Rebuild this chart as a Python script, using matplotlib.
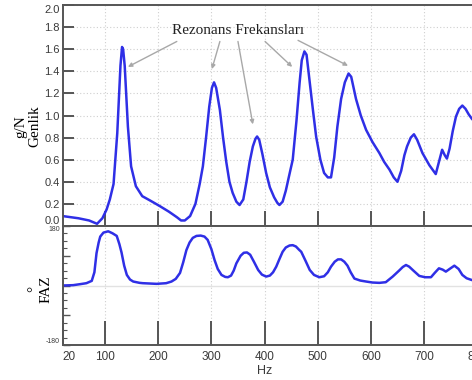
import matplotlib
matplotlib.use("Agg")
import matplotlib.pyplot as plt
from matplotlib.ticker import MultipleLocator

# amplitude (g/N) vs frequency
amp_hz = [20, 50, 70, 85, 95, 103, 109, 116, 123, 129, 132, 134, 137, 143, 149, 158,
          170, 185, 203, 220, 235, 243, 250, 260, 270, 278, 284, 290, 296, 301, 305,
          309, 316, 322, 328, 334, 340, 347, 353, 360, 366, 372, 378, 383, 386, 390,
          396, 403, 410, 418, 424, 428, 434, 440, 446, 453, 460, 466, 470, 475, 479,
          485, 491, 497, 505, 512, 519, 525, 531, 537, 544, 551, 558, 563, 572, 581,
          591, 603, 616, 625, 635, 643, 650, 657, 663, 668, 675, 681, 687, 697, 710,
          722, 728, 734, 739, 743, 748, 754, 760, 766, 772, 778, 784, 790, 800]
amp = [0.09, 0.07, 0.05, 0.02, 0.07, 0.15, 0.24, 0.38, 0.84, 1.45, 1.62, 1.60, 1.45, 0.90,
       0.54, 0.36, 0.27, 0.23, 0.18, 0.13, 0.08, 0.05, 0.05, 0.09, 0.20, 0.38, 0.54, 0.80,
       1.08, 1.25, 1.30, 1.25, 1.05, 0.80, 0.58, 0.40, 0.30, 0.22, 0.19, 0.24, 0.40, 0.58,
       0.72, 0.79, 0.81, 0.78, 0.65, 0.48, 0.35, 0.26, 0.21, 0.19, 0.22, 0.32, 0.45, 0.60,
       0.95, 1.30, 1.50, 1.58, 1.55, 1.30, 1.05, 0.81, 0.60, 0.48, 0.44, 0.44, 0.62, 0.90,
       1.15, 1.30, 1.38, 1.35, 1.15, 1.00, 0.87, 0.76, 0.66, 0.58, 0.51, 0.44, 0.40, 0.50,
       0.64, 0.72, 0.80, 0.83, 0.78, 0.66, 0.55, 0.47, 0.58, 0.69, 0.64, 0.61, 0.70, 0.86,
       0.99, 1.06, 1.09, 1.06, 1.01, 0.97, 0.92]

# phase (deg) vs frequency
faz_hz = [20, 40, 53, 65, 75, 80, 84, 88, 91, 97, 106, 114, 122, 127, 131, 136, 141, 147,
          153, 165, 171, 197, 215, 225, 233, 241, 247, 253, 259, 265, 272, 280, 287, 293,
          300, 306, 312, 319, 326, 331, 337, 342, 347, 355, 361, 367, 373, 380, 388, 395,
          403, 410, 416, 422, 428, 434, 440, 447, 453, 459, 465, 469, 477, 485, 493, 503,
          512, 519, 525, 532, 538, 544, 550, 556, 562, 569, 580, 591, 603, 616, 628, 641,
          653, 660, 666, 672, 680, 691, 702, 713, 720, 728, 735, 741, 748, 757, 765, 772,
          780, 789, 800]
faz = [0, 1, 4, 7, 14, 40, 98, 130, 148, 160, 164, 158, 150, 125, 100, 60, 32, 18, 12, 8,
       7, 5, 7, 12, 20, 38, 70, 107, 130, 144, 150, 151, 148, 138, 110, 77, 50, 32, 26, 25,
       30, 45, 67, 90, 99, 100, 93, 72, 47, 33, 27, 30, 40, 57, 80, 102, 115, 121, 122,
       118, 108, 102, 75, 47, 32, 25, 28, 40, 57, 72, 79, 79, 72, 60, 40, 21, 15, 12, 9, 8,
       10, 27, 45, 56, 62, 57, 45, 29, 25, 25, 38, 52, 48, 42, 50, 60, 50, 32, 22, 17, 12]

x_ticks = [100, 200, 300, 400, 500, 600, 700, 800]
amp_ticks = [0.0, 0.2, 0.4, 0.6, 0.8, 1.0, 1.2, 1.4, 1.6, 1.8, 2.0]

blue = '#2f2fe6'
spine_c = '#555555'
tick_c = '#3a3a3a'
grid_c = '#cfcfcf'
serif = ['Liberation Serif', 'DejaVu Serif']
sans = ['Liberation Sans', 'DejaVu Sans']

fig = plt.figure(figsize=(4.72, 3.80), dpi=100)
W, H = 472, 380
left = 62.5 / W
ax_w_px = 810 * 0.5317
ax1 = fig.add_axes([left, (H - 226) / H, ax_w_px / W, 221 / H])
ax2 = fig.add_axes([left, (H - 345) / H, ax_w_px / W, 119 / H])

for ax in (ax1, ax2):
    for s in ax.spines.values():
        s.set_color(spine_c)
        s.set_linewidth(1.4)
    ax.spines['right'].set_visible(False)
    ax.set_xlim(20, 830)
    ax.set_xticks(x_ticks)
    ax.grid(axis='x', color=grid_c, linestyle=(0, (1, 2)), linewidth=0.8)
    ax.tick_params(axis='x', direction='in', color=spine_c, width=1.4)

# top panel
ax1.plot(amp_hz, amp, color=blue, linewidth=1.8)
ax1.set_ylim(0, 2.0)
ax1.set_yticks(amp_ticks)
ax1.set_yticklabels([f'{t:.1f}' for t in amp_ticks], fontfamily=sans, fontsize=8, color=tick_c)
labs = ax1.get_yticklabels()
labs[0].set_va('bottom')
labs[-1].set_va('top')
ax1.tick_params(axis='y', direction='in', length=8, width=1.4, color=spine_c, pad=2)
ax1.tick_params(axis='x', length=11, labelbottom=False)
ax1.grid(axis='y', color=grid_c, linestyle=(0, (1, 2)), linewidth=0.8)
ax1.set_ylabel('g/N\nGenlik', fontfamily=serif, fontsize=11, linespacing=1.05)
ax1.yaxis.set_label_coords((41 - 62.5) / ax_w_px, 0.45)

ax1.text(350, 1.77, 'Rezonans Frekansları', fontfamily=serif, fontsize=11,
         ha='center', va='center', color='#222222')
arrows = [((235, 1.67), (143, 1.44)), ((316, 1.67), (301, 1.42)), ((350, 1.67), (378, 0.92)),
          ((401, 1.67), (452, 1.44)), ((463, 1.68), (557, 1.45))]
for start, end in arrows:
    ax1.annotate('', xy=end, xytext=start,
                 arrowprops=dict(arrowstyle='-|>', color='#a8a8a8', lw=1.0,
                                 mutation_scale=6, shrinkA=0, shrinkB=0))

# bottom panel
ax2.plot(faz_hz, faz, color=blue, linewidth=1.8)
ax2.set_ylim(-180, 180)
ax2.set_yticks([-180, -90, 0, 90, 180])
ax2.set_yticklabels(['-180', '', '', '', '180'], fontfamily=sans, fontsize=5, color=tick_c)
ylabs = ax2.get_yticklabels()
ylabs[0].set_va('bottom')
ylabs[-1].set_va('top')
ax2.yaxis.set_minor_locator(MultipleLocator(22.5))
ax2.tick_params(axis='y', which='major', direction='in', length=5, width=1.0, color=spine_c, pad=2)
ax2.tick_params(axis='y', which='minor', direction='in', length=3, width=0.8, color=spine_c)
ax2.tick_params(axis='x', length=17, pad=4, labelsize=8.5, labelcolor=tick_c)
ax2.axhline(0, color='#e2e2e2', linewidth=1.0, zorder=0)
ax2.set_xticks([20] + x_ticks)
ax2.set_xticklabels(['20'] + [str(t) for t in x_ticks], fontfamily=sans)
ax2.get_xticklabels()[0].set_ha('left')
ax2.set_ylabel('°\nFAZ', fontfamily=serif, fontsize=11, linespacing=1.0)
ax2.yaxis.set_label_coords((53 - 62.5) / ax_w_px, 0.47)
ax2.set_xlabel('Hz', fontfamily=sans, fontsize=9, color=tick_c)
ax2.xaxis.set_label_coords((265 - 62.5) / ax_w_px, -0.17)

fig.savefig('out.png', dpi=100)
